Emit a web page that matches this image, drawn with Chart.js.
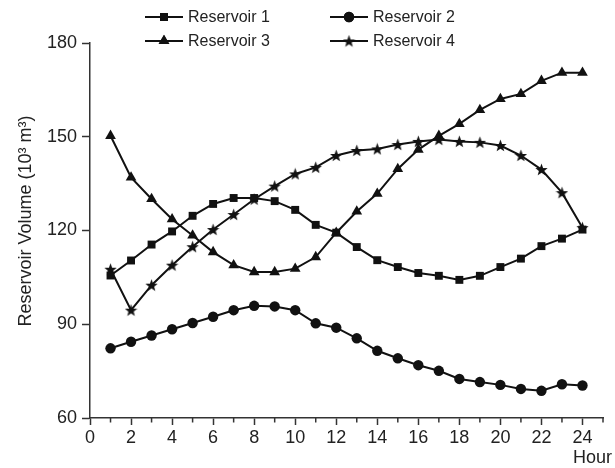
<!DOCTYPE html>
<html>
<head>
<meta charset="utf-8">
<script src="https://cdn.jsdelivr.net/npm/chart.js@4.4.1/dist/chart.umd.min.js"></script>
<style>
  html, body { margin: 0; padding: 0; background: #fff; }
  #wrap { width: 615px; height: 468px; position: relative; }
</style>
</head>
<body>
<div id="wrap"><canvas id="reservoirChart"></canvas></div>
<script>
// hours 1..24
const hours = [1,2,3,4,5,6,7,8,9,10,11,12,13,14,15,16,17,18,19,20,21,22,23,24];

const reservoir1 = [105.6,110.4,115.5,119.7,124.7,128.5,130.4,130.4,129.4,126.6,121.8,119.3,
                    114.7,110.5,108.3,106.4,105.5,104.2,105.5,108.3,111.0,115.0,117.4,120.3];
const reservoir2 = [82.3,84.4,86.4,88.4,90.4,92.4,94.5,95.9,95.7,94.5,90.3,88.9,
                    85.5,81.5,79.1,76.9,75.1,72.5,71.5,70.6,69.3,68.7,70.8,70.4];
const reservoir3 = [150.3,137.0,130.1,123.6,118.4,113.1,108.9,106.7,106.7,107.8,111.5,119.3,
                    126.1,131.8,139.7,145.9,150.3,154.1,158.6,162.1,163.7,167.9,170.5,170.5];
const reservoir4 = [107.6,94.5,102.5,108.9,114.8,120.3,125.1,130.0,134.2,138.1,140.2,144.0,
                    145.6,146.1,147.5,148.5,149.1,148.5,148.2,147.2,144.0,139.5,132.1,120.9];

const seriesNames = ['Reservoir 1', 'Reservoir 2', 'Reservoir 3', 'Reservoir 4'];
const yTicks = [60, 90, 120, 150, 180];

const INK = '#111';
const AXIS = '#333';
const FONT = "'Liberation Sans', Arial, Helvetica, sans-serif";

// filled five point star, Chart.js 'star' is only stroked
function makeStar(size) {
    const c = document.createElement('canvas');
    c.width = size; c.height = size;
    const g = c.getContext('2d');
    const cx = size / 2, cy = size / 2 + 0.6;
    const outer = size / 2, inner = outer * 0.42;
    g.beginPath();
    for (let i = 0; i < 10; i++) {
        const r = i % 2 ? inner : outer;
        const a = -Math.PI / 2 + i * Math.PI / 5;
        g.lineTo(cx + r * Math.cos(a), cy + r * Math.sin(a));
    }
    g.closePath();
    g.fillStyle = INK;
    g.fill();
    return c;
}
const starImg = makeStar(13);

function pts(values) {
    return values.map((v, i) => ({ x: hours[i], y: v }));
}

const styles = [
    { pointStyle: 'rect', radius: 5.6 },
    { pointStyle: 'circle', radius: 5.2 },
    { pointStyle: 'triangle', radius: 6.2 },
    { pointStyle: starImg, radius: 6.5 }
];

const datasets = [reservoir1, reservoir2, reservoir3, reservoir4].map((vals, i) => ({
    label: seriesNames[i],
    data: pts(vals),
    borderColor: INK,
    backgroundColor: INK,
    borderWidth: 2,
    pointStyle: styles[i].pointStyle,
    pointRadius: styles[i].radius,
    pointBorderWidth: 0,
    pointBackgroundColor: INK,
    tension: 0
}));

// legend in 2x2 grid, y title, "Hour" label and short minor ticks
const extras = {
    id: 'extras',
    afterDraw(chart) {
        const ctx = chart.ctx;
        ctx.save();

        // legend
        const spots = [[145, 17], [330, 17], [145, 41], [330, 41]];
        ctx.font = '16px ' + FONT;
        ctx.textBaseline = 'middle';
        spots.forEach((p, i) => {
            const x = p[0], y = p[1];
            ctx.strokeStyle = INK;
            ctx.lineWidth = 2;
            ctx.beginPath();
            ctx.moveTo(x, y);
            ctx.lineTo(x + 38, y);
            ctx.stroke();
            Chart.helpers.drawPoint(ctx, {
                pointStyle: styles[i].pointStyle,
                radius: styles[i].radius,
                rotation: 0,
                borderWidth: 0
            }, x + 19, y);
            ctx.fillStyle = INK;
            ctx.fill();
            ctx.fillStyle = '#222';
            ctx.fillText(seriesNames[i], x + 43, y + 1);
        });

        // minor ticks on the hour axis
        const xs = chart.scales.x;
        const base = chart.chartArea.bottom;
        ctx.strokeStyle = AXIS;
        ctx.lineWidth = 1.5;
        for (let h = 1; h <= 25; h += 2) {
            const px = xs.getPixelForValue(h);
            ctx.beginPath();
            ctx.moveTo(px, base);
            ctx.lineTo(px, base + 4.5);
            ctx.stroke();
        }

        // axis titles
        ctx.fillStyle = '#222';
        ctx.font = '18px ' + FONT;
        ctx.textBaseline = 'alphabetic';
        ctx.textAlign = 'left';
        ctx.fillText('Hour', 573, 463);

        ctx.translate(31, 221);
        ctx.rotate(-Math.PI / 2);
        ctx.textAlign = 'center';
        ctx.fillText('Reservoir Volume (10\u00b3 m\u00b3)', 0, 0);
        ctx.restore();
    }
};

document.addEventListener('DOMContentLoaded', function () {
    const canvas = document.getElementById('reservoirChart');
    new Chart(canvas, {
        type: 'line',
        data: { datasets: datasets },
        options: {
            responsive: true,
            maintainAspectRatio: false,
            animation: false,
            layout: { padding: { top: 43, right: 12, left: 0, bottom: 0 } },
            plugins: {
                legend: { display: false },
                tooltip: { enabled: false }
            },
            scales: {
                x: {
                    type: 'linear',
                    min: 0,
                    max: 25,
                    afterFit(scale) { scale.height = 50; },
                    afterBuildTicks(scale) {
                        scale.ticks = [];
                        for (let h = 0; h <= 25; h++) scale.ticks.push({ value: h });
                    },
                    ticks: {
                        autoSkip: false,
                        maxRotation: 0,
                        color: '#222',
                        font: { family: FONT, size: 18 },
                        padding: 2,
                        callback: v => (v % 2 === 0 && v <= 24) ? String(v) : ''
                    },
                    grid: {
                        display: true,
                        drawOnChartArea: false,
                        drawTicks: true,
                        tickLength: 7,
                        tickWidth: 1.5,
                        tickColor: c => (c.tick && c.tick.value % 2 === 0) ? AXIS : 'rgba(0,0,0,0)'
                    },
                    border: { display: true, color: AXIS, width: 1.5 }
                },
                y: {
                    min: 60,
                    max: 180,
                    afterFit(scale) { scale.width = 90; },
                    afterBuildTicks(scale) {
                        scale.ticks = yTicks.map(v => ({ value: v }));
                    },
                    ticks: {
                        color: '#222',
                        font: { family: FONT, size: 18 },
                        padding: 5
                    },
                    grid: {
                        display: true,
                        drawOnChartArea: false,
                        drawTicks: true,
                        tickLength: 8,
                        tickWidth: 1.5,
                        tickColor: AXIS
                    },
                    border: { display: true, color: AXIS, width: 1.5 }
                }
            }
        },
        plugins: [extras]
    });
});
</script>
</body>
</html>
